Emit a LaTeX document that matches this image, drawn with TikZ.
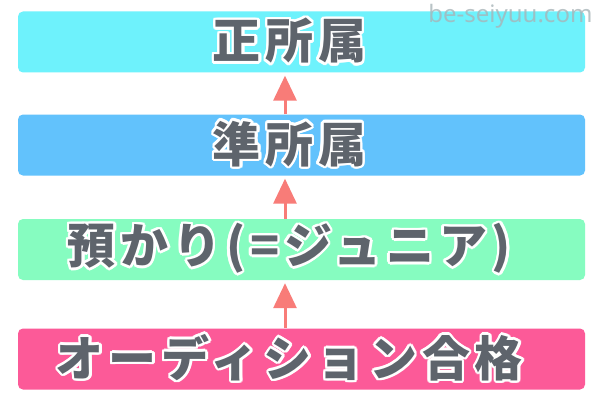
\documentclass[tikz,border=0pt]{standalone}
\usepackage{fontspec}
\usepackage{contour}
\usetikzlibrary{arrows.meta}

\newfontfamily\jpfont{Noto Sans CJK JP}[LetterSpace=10]
\newfontfamily\markfont{Noto Sans}
\contourlength{2.5pt}

\definecolor{textgray}{HTML}{5E646C}
\definecolor{boxcyan}{HTML}{6EF2FC}
\definecolor{boxblue}{HTML}{62C2FC}
\definecolor{boxgreen}{HTML}{86FCC0}
\definecolor{boxpink}{HTML}{FC5A98}
\definecolor{arrowpink}{HTML}{F87C78}
\definecolor{markgray}{HTML}{A8B4B8}

\tikzset{
  stage/.style={rounded corners=5pt, minimum width=567pt, minimum height=61pt, inner sep=0pt},
  stagetext/.style={text=textgray, font=\jpfont\bfseries\fontsize{48}{50}\selectfont, xshift=-12pt},
  uparrow/.style={draw=arrowpink, line width=3pt, -{Triangle[width=23pt,length=25pt]}, shorten >=3pt},
}

\begin{document}
\begin{tikzpicture}
  \fill[white] (0,0) rectangle (600pt,400pt);
  \useasboundingbox (0,0) rectangle (600pt,400pt);

  \node[stage, fill=boxcyan] (seishozoku) at (301.5pt,358pt) {};
  \node[stage, fill=boxblue] (junshozoku) at (301.5pt,255pt) {};
  \node[stage, fill=boxgreen] (junior) at (301.5pt,150.5pt) {};
  \node[stage, fill=boxpink] (audition) at (301.5pt,41pt) {};

  \node[stagetext] (seishozoku-text) at (seishozoku.center) {\contour{white}{正所属}};
  \node[stagetext] (junshozoku-text) at (junshozoku.center) {\contour{white}{準所属}};
  \node[stagetext] (junior-text) at (junior.center) {\contour{white}{預かり(=ジュニア)}};
  \node[stagetext] (audition-text) at (audition.center) {\contour{white}{オーディション合格}};

  \draw[uparrow] ([xshift=-16.5pt]audition.north) -- ([xshift=-16.5pt]junior.south);
  \draw[uparrow] ([xshift=-16.5pt]junior.north) -- ([xshift=-16.5pt]junshozoku.south);
  \draw[uparrow] ([xshift=-16.5pt]junshozoku.north) -- ([xshift=-16.5pt]seishozoku.south);

  \node[text=markgray, opacity=0.8, font=\markfont\fontsize{24}{26}\selectfont, anchor=base east]
    (watermark) at (596pt,377pt) {be-seiyuu.com};
\end{tikzpicture}
\end{document}
